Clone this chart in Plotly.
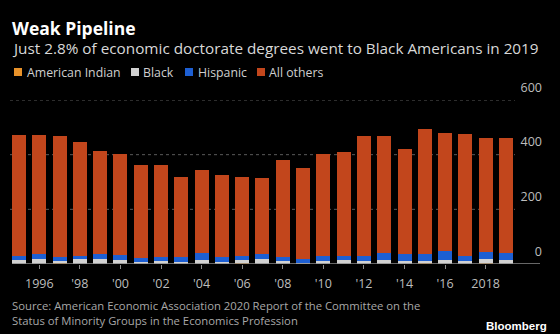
import plotly.graph_objects as go

years = list(range(1995, 2020))
american_indian = [1, 1, 6, 1, 1, 1, 1, 1, 1, 1, 1, 3, 1, 1, 1, 1, 1, 1, 1, 1, 4, 1, 1, 2, 1]
black = [12, 18, 6, 18, 19, 15, 5, 11, 8, 13, 5, 12, 17, 10, 4, 10, 15, 10, 12, 10, 6, 15, 11, 16, 13]
hispanic = [15, 17, 15, 12, 15, 16, 15, 13, 17, 25, 18, 16, 18, 16, 13, 18, 15, 17, 27, 25, 28, 33, 19, 27, 27]
all_others = [445, 437, 440, 417, 378, 372, 343, 339, 294, 305, 302, 289, 280, 355, 332, 375, 379, 442, 427, 383, 457, 430, 444, 416, 420]

x_tickvals = [1996, 1998, 2000, 2002, 2004, 2006, 2008, 2010, 2012, 2014, 2016, 2018]
x_ticktext = ["1996", "'98", "'00", "'02", "'04", "'06", "'08", "'10", "'12", "'14", "'16", "2018"]
y_tickvals = [0, 200, 400, 600]
y_ticktext = ["0", "200", "400", "600"]

series_names = ["American Indian", "Black", "Hispanic", "All others"]
series_values = [american_indian, black, hispanic, all_others]
series_colors = ["#e8922a", "#d2d2d2", "#1d5fd3", "#c2461c"]

FONT = "Open Sans"
fig = go.Figure()
for name, vals, color in zip(series_names, series_values, series_colors):
    fig.add_trace(go.Bar(x=years, y=vals, name=name, showlegend=False,
                         marker=dict(color=color, line=dict(width=0))))

# plot area: x 12..545, y 100..264
L, R, T, B = 12, 15, 100, 70
W, H = 560, 334
pw = W - L - R
ph = H - T - B

def px(p):
    return (p - L) / pw

def py(p):
    return (H - B - p) / ph

shapes = []
for v in y_tickvals[1:]:
    shapes.append(dict(type="line", xref="paper", yref="y", x0=px(10), x1=px(515), y0=v, y1=v,
                       line=dict(color="#5a5a5a", width=1, dash="dot"), layer="below"))
shapes.append(dict(type="line", xref="paper", yref="y", x0=0, x1=px(540), y0=0, y1=0,
                   line=dict(color="#8a8a8a", width=1.5), layer="above"))

# custom legend (squares + labels)
legend_sq_x = [14, 131, 185, 257]
legend_tx_x = [27, 143, 198, 269]
for sx, color in zip(legend_sq_x, series_colors):
    shapes.append(dict(type="rect", xref="paper", yref="paper", x0=px(sx), x1=px(sx + 8),
                       y0=py(76), y1=py(68), fillcolor=color, line=dict(width=0)))

fig.update_layout(
    width=W, height=H,
    paper_bgcolor="#000000", plot_bgcolor="#000000",
    margin=dict(l=L, r=R, t=T, b=B, pad=0, autoexpand=False),
    barmode="stack", bargap=0.31,
    font=dict(family=FONT, color="#bdbdbd", size=12),
    title=dict(text="<b>Weak Pipeline</b>", font=dict(family=FONT, size=17.5, color="#ffffff"),
               xref="container", yref="container", x=L / W, xanchor="left",
               y=1 - 28.5 / H, yanchor="middle", pad=dict(l=0, r=0, t=0, b=0)),
    xaxis=dict(range=[1994.655, 1995 + (W - R - 19) / 20.29], tickvals=x_tickvals, ticktext=x_ticktext,
               ticks="outside", ticklen=4, tickcolor="#8a8a8a", tickwidth=1, showgrid=False,
               zeroline=False, showline=False, ticklabelstandoff=4,
               tickfont=dict(family=FONT, size=12.5, color="#bdbdbd")),
    yaxis=dict(range=[0, 600], side="right", tickvals=y_tickvals, ticktext=y_ticktext,
               ticklabelposition="inside top", ticklabeloverflow="allow", showgrid=False,
               zeroline=False, showline=False, ticks="", ticklabelshift=-4,
               tickfont=dict(family=FONT, size=12.5, color="#bdbdbd")),
    shapes=shapes,
    showlegend=False,
)

for tx, name in zip(legend_tx_x, series_names):
    fig.add_annotation(text=name, xref="paper", yref="paper", x=px(tx), y=py(72), xshift=-2,
                       xanchor="left", yanchor="middle", showarrow=False,
                       font=dict(family=FONT, size=12.3, color="#cfcfcf"))

fig.add_annotation(text="Just 2.8% of economic doctorate degrees went to Black Americans in 2019",
                   xref="paper", yref="paper", x=0, y=py(48), xshift=-2, xanchor="left", yanchor="middle",
                   showarrow=False, font=dict(family=FONT, size=15.3, color="#d8d8d8"))
fig.add_annotation(text="Source: American Economic Association 2020 Report of the Committee on the<br>"
                        "Status of Minority Groups in the Economics Profession",
                   xref="paper", yref="paper", x=0, y=py(312.5), xshift=-2, xanchor="left", yanchor="middle",
                   align="left", showarrow=False, font=dict(family=FONT, size=11.3, color="#a8a8a8"))
fig.add_annotation(text="<b>Bloomberg</b>", xref="paper", yref="paper", x=px(549), y=py(326),
                   xanchor="right", yanchor="middle", showarrow=False,
                   font=dict(family="Liberation Sans", size=11.5, color="#ffffff"))

fig.write_html("out.html")
